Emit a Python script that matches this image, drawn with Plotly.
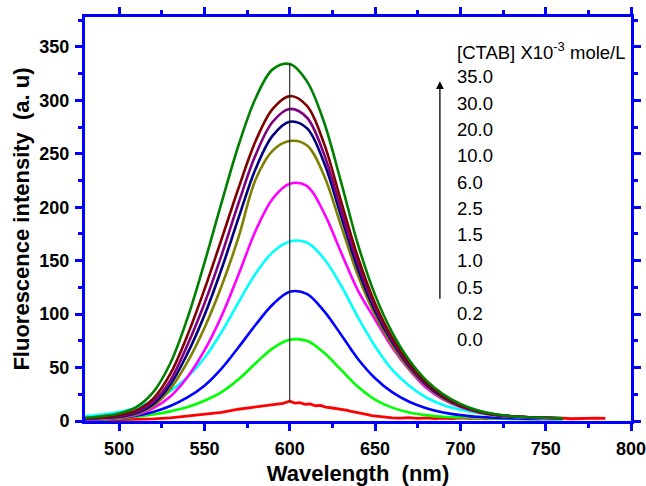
import plotly.graph_objects as go

# Emission wavelengths (nm) for the smooth spectra
wl = [480, 490, 500, 510, 520, 530, 540, 550, 560, 570, 580, 590, 600, 610,
      620, 630, 640, 650, 660, 670, 680, 690, 700, 710, 720, 730, 740, 750, 760]

# Fluorescence intensity (a. u) for each CTAB concentration (x10^-3 mole/L)
ctab_35_0 = [3, 4.5, 7, 13, 27, 54, 96, 148, 204, 258, 302, 329, 334, 318,
             280, 224, 165, 118, 83, 57, 38, 25, 16, 10, 6.5, 4.5, 3.5, 3, 2.5]
ctab_30_0 = [2.5, 3.5, 5.5, 10, 21, 44, 80, 123, 170, 218, 262, 292, 304, 295,
             260, 206, 153, 110, 78, 54, 36, 23.5, 15, 9.5, 6, 4.5, 3.5, 3, 2.5]
ctab_20_0 = [2, 3, 4.5, 8.5, 18, 38, 71, 110, 155, 204, 249, 280, 292, 284,
             250, 198, 147, 106, 76, 52, 35, 23, 14.5, 9, 6, 4.5, 3.5, 3, 2.5]
ctab_10_0 = [2, 3, 4, 7.5, 16, 34, 63, 99, 142, 190, 236, 267, 280, 274,
             242, 192, 142, 103, 74, 51, 34, 22, 14, 9, 6, 4.5, 3.5, 3, 2.5]
ctab_6_0 = [2, 2.5, 3.5, 6.5, 14, 30, 55, 87, 126, 172, 226, 253, 262, 258,
            230, 183, 136, 99, 71, 49, 33, 21, 13.5, 8.5, 5.5, 4.5, 3.5, 3, 2.5]
ctab_2_5 = [1.5, 2, 3, 5.5, 12, 23, 41, 66, 98, 137, 178, 208, 222, 220,
            195, 158, 122, 95, 69, 48, 31, 20, 13, 8.5, 5.5, 4, 3, 2.5, 2.5]
ctab_1_5 = [4.5, 6, 8.5, 12.5, 19, 28, 41, 59, 83, 111, 138, 158, 168, 167,
            152, 127, 97, 70, 48, 33, 22, 15, 10.5, 7.5, 5.5, 4, 3, 2.5, 2.5]
ctab_1_0 = [1.5, 2, 3, 5, 8.5, 14, 22, 33, 49, 69, 90, 109, 121, 119,
            103, 81, 58, 40, 27, 18, 12, 8, 5.5, 4, 3, 2.5, 2, 2, 2]
ctab_0_5 = [1, 1.5, 2.5, 4, 6, 9, 13, 19, 27, 39, 54, 68, 76, 75,
            64, 48, 32, 20, 12.5, 8, 5.5, 4, 3.5, 3, 2.5, 2, 2, 2, 2]

# The surfactant-free spectrum is noisier and was recorded out to 785 nm
wl_blank = [480, 490, 500, 510, 520, 530, 540, 550, 560, 570, 580, 590, 596,
            600, 603, 606, 609, 612, 615, 618, 621, 624, 627, 630, 633, 636,
            639, 642, 645, 648, 651, 654, 657, 660, 665, 670, 675, 680, 685,
            690, 695, 700, 705, 710, 715, 720, 725, 730, 735, 740, 745, 750,
            755, 760, 765, 770, 775, 780, 785]
ctab_0_0 = [0.5, 0.8, 1, 1.5, 2, 3, 4.5, 6, 8, 11, 13, 15.5, 16.5,
            18.5, 16.8, 17.2, 15.6, 15.9, 14.3, 14.6, 13.0, 12.4, 11.8, 10.6, 10.1, 9.0,
            8.3, 7.1, 6.2, 5.0, 4.4, 3.6, 3.2, 3.0, 2.6, 3.1, 2.4, 2.9, 2.3,
            2.8, 2.2, 2.9, 2.4, 2.8, 2.2, 2.7, 2.3, 2.8, 2.2, 2.6, 2.1, 2.7,
            2.2, 2.6, 2.1, 2.5, 2.2, 2.6, 2.4]

concentrations = ["35.0", "30.0", "20.0", "10.0", "6.0", "2.5",
                  "1.5", "1.0", "0.5", "0.2", "0.0"]
spectra = [ctab_35_0, ctab_30_0, ctab_20_0, ctab_10_0, ctab_6_0, ctab_2_5,
           ctab_1_5, ctab_1_0, ctab_0_5]
colors = ["#008000", "#800000", "#800080", "#000080", "#808000", "#ff00ff",
          "#00ffff", "#0000ff", "#00ff00"]

x_ticks = [500, 550, 600, 650, 700, 750, 800]
y_ticks = [0, 50, 100, 150, 200, 250, 300, 350]
peak_wavelength = 600

fig = go.Figure()

# Reference line marking the emission maximum, spanning the lowest to highest peak
fig.add_shape(type="line", xref="x", yref="y",
              x0=peak_wavelength, x1=peak_wavelength,
              y0=max(ctab_0_0), y1=max(ctab_35_0),
              line=dict(color="black", width=1), layer="above")

fig.add_trace(go.Scatter(x=wl_blank, y=ctab_0_0, mode="lines",
                         line=dict(color="#ff0000", width=2.8),
                         showlegend=False))
for ys, c in zip(reversed(spectra), reversed(colors)):
    fig.add_trace(go.Scatter(x=wl, y=ys, mode="lines",
                             line=dict(color=c, width=2.6, shape="spline",
                                       smoothing=1.0),
                             showlegend=False))

# Concentration key drawn as text rows, with an arrow for increasing [CTAB]
key_x = 697
key_top = 346
key_first = 322
key_step = 24.6
fig.add_annotation(x=key_x, y=key_top, xref="x", yref="y",
                   text="[CTAB] X10<sup>-3</sup> mole/L", showarrow=False,
                   xanchor="left", yanchor="middle",
                   font=dict(size=18.5, color="black"))
for i, label in enumerate(concentrations):
    fig.add_annotation(x=key_x, y=key_first - key_step * i, xref="x", yref="y",
                       text=label, showarrow=False, xanchor="left", yanchor="middle",
                       font=dict(size=18.5, color="black"))
fig.add_annotation(x=688, y=318, ax=688, ay=113, xref="x", yref="y",
                   axref="x", ayref="y", text="", showarrow=True,
                   arrowhead=2, arrowsize=1.2, arrowwidth=1.3, arrowcolor="black")

axis_common = dict(
    showline=True, linecolor="#0000ff", linewidth=3, mirror="allticks",
    ticks="outside", ticklen=7, tickwidth=2.5, tickcolor="#0000ff",
    showgrid=False, zeroline=False, automargin=False,
    ticklabeloverflow="allow", ticklabelstandoff=2,
    tickfont=dict(size=18, color="black", weight="bold"),
)

fig.update_xaxes(range=[480, 800], tickvals=x_ticks,
                 minor=dict(dtick=25, ticks="outside", ticklen=4, tickwidth=2.5,
                            tickcolor="#0000ff"),
                 title=dict(text="Wavelength\u00a0 (nm)", standoff=9,
                            font=dict(size=22, color="black", weight="bold")),
                 **axis_common)
fig.update_yaxes(range=[0, 378], tickvals=y_ticks,
                 minor=dict(dtick=25, ticks="outside", ticklen=4, tickwidth=2.5,
                            tickcolor="#0000ff"),
                 title=dict(text="Fluorescence intensity\u00a0 (a. u)", standoff=4,
                            font=dict(size=22, color="black", weight="bold")),
                 **axis_common)

fig.update_layout(
    width=646, height=486,
    margin=dict(l=85, r=15, t=17, b=65),
    paper_bgcolor="white", plot_bgcolor="white",
    font=dict(family="Liberation Sans, Arial, sans-serif", color="black"),
)

fig.write_html("out.html")
